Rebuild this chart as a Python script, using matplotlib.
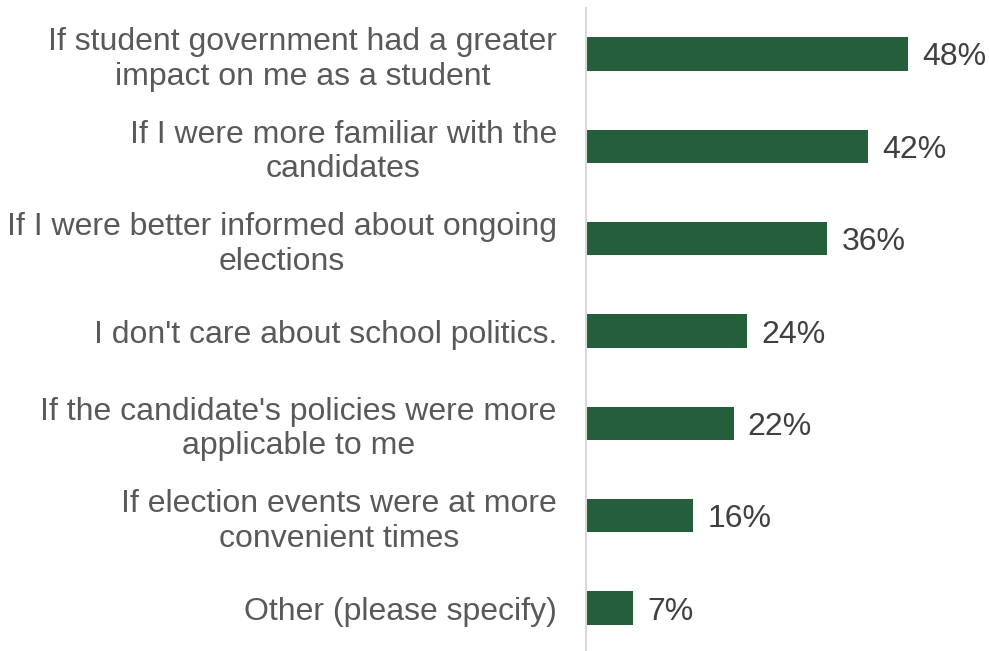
import numpy as np
import matplotlib.pyplot as plt

plt.rcParams['font.family'] = ['Liberation Sans', 'DejaVu Sans']

labels = [
    "If student government had a greater\nimpact on me as a student",
    "If I were more familiar with the\ncandidates",
    "If I were better informed about ongoing\nelections",
    "I don't care about school politics.",
    "If the candidate's policies were more\napplicable to me",
    "If election events were at more\nconvenient times",
    "Other (please specify)",
]
values = [48, 42, 36, 24, 22, 16, 7]

fig = plt.figure(figsize=(9.89, 6.51), dpi=100)
ax = fig.add_axes([0.5925, -0.005, 0.407, 0.993])

y = np.arange(len(values))
ax.barh(y, values, height=0.36, color='#255E3B')
for yi, v in zip(y, values):
    ax.text(v + 2.1, yi, f"{v}%", va='center_baseline', ha='left', fontsize=23, color='#404040')

ax.set_yticks(y)
ax.set_yticklabels(labels, fontsize=23, color='#595959', linespacing=1.2,
                   multialignment='center')
ax.tick_params(axis='y', length=0, pad=21)
ax.set_xticks([])
ax.set_xlim(0, 60)
ax.set_ylim(len(values) - 0.5, -0.5)

for s in ['top', 'right', 'bottom']:
    ax.spines[s].set_visible(False)
ax.spines['left'].set_color('#D9D9D9')
ax.spines['left'].set_linewidth(1.5)

fig.savefig('out.png', dpi=100)
